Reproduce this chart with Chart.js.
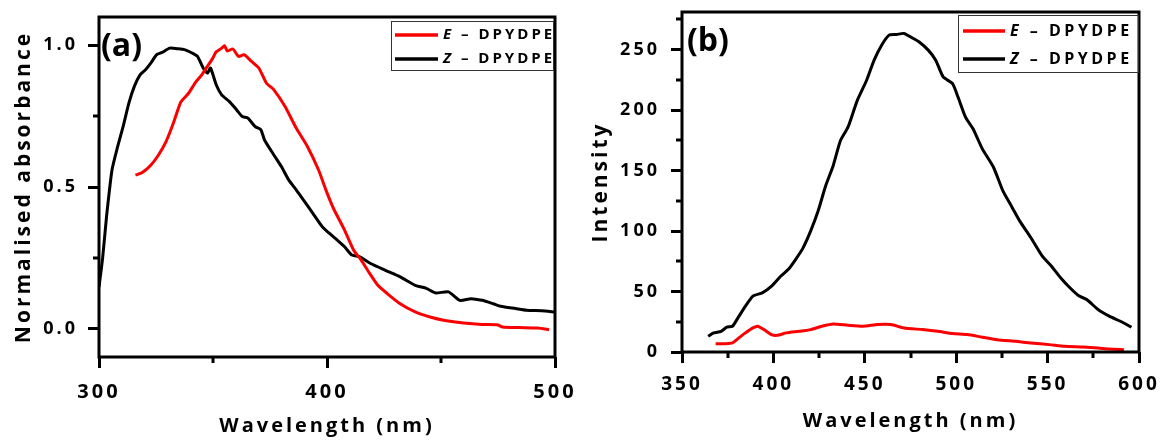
<!DOCTYPE html>
<html><head><meta charset="utf-8">
<script src="https://cdn.jsdelivr.net/npm/chart.js@4"></script>
<style>
html,body{margin:0;padding:0;background:#fff;}
#wrap{position:relative;width:1164px;height:441px;overflow:hidden;background:#fff;}
canvas{position:absolute;top:0;}
#ca{left:0;} #cb{left:580px;}
</style></head><body>
<div id="wrap"><canvas id="ca" width="580" height="441"></canvas><canvas id="cb" width="584" height="441"></canvas></div>
<script>
// ---------- Panel (a): absorbance ----------
const aWlE = [316,318.8,322.8,326.1,329.4,332.6,335.9,339.2,342.4,344.9,347.3,349.8,351.4,353.8,355,356.3,358.7,361.2,363.6,366.9,370.1,373.4,376.7,381.6,386.5,391.4,396.3,399.5,402.8,407.7,411.7,415,418.3,422.3,426.4,432.1,438.7,445.2,451.7,459.9,468,474.6,477,484.3,492.5,497.4];
const aAbsE = [0.542,0.55,0.578,0.613,0.66,0.725,0.80,0.83,0.87,0.894,0.923,0.953,0.977,0.99,0.999,0.98,0.987,0.961,0.967,0.943,0.92,0.867,0.843,0.784,0.708,0.643,0.56,0.49,0.425,0.348,0.277,0.242,0.20,0.153,0.124,0.088,0.059,0.041,0.029,0.02,0.015,0.014,0.006,0.004,0.002,-0.004];
const aWlZ = [300,301.6,303.3,305.7,308.2,310.6,313.1,315.5,318,320.4,322.8,325.3,327.7,331,334.3,337.5,340.8,343.2,345.7,347.6,348.9,351.4,353.8,357.1,360.4,362.8,365.3,368.5,371,372.6,376.7,380,383.2,386.5,389.7,393.8,397.9,401.1,404.4,407.7,410.9,414.2,419.1,425.6,432.1,438.7,443.6,447.6,453.3,458.2,463.1,468,472.9,476.2,482.7,487.6,494.1,500];
const aAbsZ = [0.147,0.25,0.395,0.56,0.643,0.714,0.796,0.855,0.896,0.914,0.938,0.967,0.975,0.99,0.988,0.985,0.973,0.961,0.92,0.902,0.92,0.861,0.825,0.802,0.772,0.749,0.743,0.713,0.702,0.666,0.613,0.572,0.525,0.49,0.454,0.407,0.36,0.336,0.313,0.289,0.26,0.254,0.23,0.206,0.183,0.153,0.142,0.126,0.13,0.10,0.106,0.10,0.088,0.079,0.071,0.065,0.063,0.059];
const aXTicks = [300,400,500];
const aXMinor = [350,450];
const aYTicks = [0,0.5,1.0];
const aYMinor = [0.25,0.75];

// ---------- Panel (b): emission ----------
const bWlE = [368.4,373.5,377.6,380.6,384.7,388.8,391.4,394.9,399,402.1,407.1,414.3,420.4,426.5,432.7,440.8,449,457.1,464.3,471.4,481.6,489.8,498,506.1,514.3,522.4,532.7,540.8,551,559.2,569.4,577.6,583.7,591.8];
const bIntE = [6.9,6.9,7.5,11.1,15.8,19.9,21.3,18.5,14.4,13.8,15.8,17.1,18.5,21.3,23.2,22.1,21.3,22.7,22.7,19.9,18.5,17.1,15.2,14.4,12.2,10.2,8.8,7.5,6.1,4.7,4.1,3.3,2.5,1.9];
const bWlZ = [364.3,367.3,371.4,374.5,377.6,380.6,384.7,388.8,393.9,399,404.1,408.2,412.2,416.3,420.4,424.5,428.6,432.7,436.7,440.8,445.9,451,455.1,459.2,463.3,467.3,471.4,475.5,479.6,484.7,488.8,492.9,498,501,505.1,509.2,514.3,520.4,525.5,530.6,534.7,540.8,547,552,557.1,562.2,567.3,571.4,577.6,583.7,589.8,595.9];
const bIntZ = [13,15.8,17.1,20.5,21.3,28.2,37.9,46.2,48.9,54.5,62.8,68.3,76.6,86.3,100.1,116.7,137.4,154,174.8,185.8,208,224.6,241.2,253.6,261.9,262.4,263.3,260,256.4,249.5,241.2,227.3,221.8,210.7,194.1,184.5,167.9,152.7,133.3,119.5,108.4,94.6,79.4,71.1,61.4,53.1,46.2,43.4,35.1,29.6,25.4,20.5];
const bXTicks = [350,400,450,500,550,600];
const bXMinor = [375,425,475,525,575];
const bYTicks = [0,50,100,150,200,250];
const bYMinor = [25,75,125,175,225,275];

const seriesNames = ['E – DPYDPE','Z – DPYDPE'];
const legendPre = ['E','Z'];
const legendRest = [' – DPYDPE',' – DPYDPE'];
const RED = 'rgb(250,0,0)';
const BLACK = '#000';
const FONT = "'Open Sans', 'DejaVu Sans', sans-serif";

function pts(xs, ys){ return xs.map((x,i)=>({x:x, y:ys[i]})); }

const spacingPlugin = {
  id:'spacing',
  beforeUpdate(c){ c.ctx.letterSpacing='3px'; },
  beforeLayout(c){ c.ctx.letterSpacing='3px'; },
  beforeDraw(c){ c.ctx.letterSpacing='3px'; }
};

const decoPlugin = {
  id:'deco',
  afterDatasetsDraw(chart, args, o){
    const ctx = chart.ctx, a = chart.chartArea, x = chart.scales.x, y = chart.scales.y;
    ctx.save();
    ctx.strokeStyle='#000'; ctx.lineWidth=3;
    ctx.beginPath();
    o.xMinor.forEach(v=>{const p=Math.round(x.getPixelForValue(v)); ctx.moveTo(p,a.bottom); ctx.lineTo(p,a.bottom+6);});
    o.yMinor.forEach(v=>{const p=Math.round(y.getPixelForValue(v)); ctx.moveTo(a.left,p); ctx.lineTo(a.left-6,p);});
    ctx.stroke();
    ctx.strokeRect(a.left,a.top,a.right-a.left,a.bottom-a.top);
    // panel label
    ctx.letterSpacing='0px';
    ctx.fillStyle='#000';
    ctx.font='bold 32px '+FONT;
    ctx.textBaseline='alphabetic'; ctx.textAlign='left';
    ctx.fillText(o.label, o.labelX, o.labelY);
    // legend
    const L = o.legend;
    ctx.lineWidth=1; ctx.strokeStyle='#333';
    ctx.strokeRect(L.x+0.5, L.y+0.5, L.w, L.h);
    const colors=[RED,BLACK];
    for(let i=0;i<2;i++){
      const yy=L.ys[i];
      ctx.strokeStyle=colors[i]; ctx.lineWidth=3.5;
      ctx.beginPath(); ctx.moveTo(L.lx1,yy); ctx.lineTo(L.lx2,yy); ctx.stroke();
      ctx.letterSpacing=L.sp+'px';
      ctx.textBaseline='middle';
      ctx.font='italic bold '+L.size+'px '+FONT;
      ctx.fillText(legendPre[i], L.tx, yy);
      const w=ctx.measureText(legendPre[i]).width;
      ctx.font='bold '+L.size+'px '+FONT;
      ctx.fillText(legendRest[i], L.tx+w, yy);
    }
    ctx.restore();
  }
};

function makeChart(id, cfg){
  return new Chart(document.getElementById(id), {
    type:'line',
    data:{datasets:[
      {label:seriesNames[0], data:pts(cfg.wlE,cfg.vE), borderColor:RED, borderWidth:3, pointRadius:0, tension:0.2, fill:false},
      {label:seriesNames[1], data:pts(cfg.wlZ,cfg.vZ), borderColor:BLACK, borderWidth:3, pointRadius:0, tension:0.2, fill:false}
    ]},
    options:{
      responsive:false, animation:false, devicePixelRatio:1,
      layout:{padding:cfg.pad},
      plugins:{legend:{display:false}, tooltip:{enabled:false},
        deco:{xMinor:cfg.xMinor, yMinor:cfg.yMinor, label:cfg.label, labelX:cfg.labelX, labelY:cfg.labelY, legend:cfg.legend}},
      scales:{
        x:{type:'linear', min:cfg.xMin, max:cfg.xMax,
          afterBuildTicks:s=>{s.ticks=cfg.xTicks.map(v=>({value:v}));},
          afterFit:s=>{s.height=cfg.xH; s.paddingLeft=0; s.paddingRight=0;},
          border:{display:false},
          grid:{display:true, drawOnChartArea:false, drawTicks:true, tickLength:11, tickWidth:3, tickColor:'#000', color:'#000'},
          ticks:{color:'#000', font:{family:FONT, size:cfg.xFont, weight:'bold'}, padding:cfg.xPad, maxRotation:0, callback:v=>String(v)},
          title:{display:true, text:'Wavelength (nm)', color:'#000', font:{family:FONT,size:20,weight:'bold'}, padding:{top:0,bottom:cfg.xTitlePad}}
        },
        y:{type:'linear', min:cfg.yMin, max:cfg.yMax,
          afterBuildTicks:s=>{s.ticks=cfg.yTicks.map(v=>({value:v}));},
          afterFit:s=>{s.width=cfg.yW; s.paddingTop=0; s.paddingBottom=0;},
          border:{display:false},
          grid:{display:true, drawOnChartArea:false, drawTicks:true, tickLength:11, tickWidth:3, tickColor:'#000', color:'#000'},
          ticks:{color:'#000', font:{family:FONT, size:18, weight:'bold'}, padding:cfg.yPad, callback:cfg.yFmt},
          title:{display:true, text:cfg.yTitle, color:'#000', font:{family:FONT,size:21,weight:'bold'}, padding:{top:cfg.yTitlePad,bottom:0}}
        }
      }
    },
    plugins:[spacingPlugin, decoPlugin]
  });
}

makeChart('ca', {
  wlE:aWlE, vE:aAbsE, wlZ:aWlZ, vZ:aAbsZ,
  xMin:300, xMax:500, yMin:-0.1, yMax:1.1,
  xTicks:aXTicks, yTicks:aYTicks, xMinor:aXMinor, yMinor:aYMinor,
  pad:{top:17,right:25,left:0,bottom:0}, xH:84, yW:99,
  xFont:20, xPad:12, yPad:10, xTitlePad:3, yTitlePad:11,
  yFmt:v=>Number(v).toFixed(1), yTitle:'Normalised absorbance',
  label:'(a)', labelX:101, labelY:56,
  legend:{x:391,y:21,w:162,h:49,ys:[35,59],lx1:395,lx2:438,tx:443,size:15,sp:3}
});
makeChart('cb', {
  wlE:bWlE, vE:bIntE, wlZ:bWlZ, vZ:bIntZ,
  xMin:350, xMax:600, yMin:0, yMax:281,
  xTicks:bXTicks, yTicks:bYTicks, xMinor:bXMinor, yMinor:bYMinor,
  pad:{top:12,right:25,left:0,bottom:0}, xH:89, yW:102,
  xFont:19, xPad:10, yPad:11, xTitlePad:8, yTitlePad:8,
  yFmt:v=>String(v), yTitle:'Intensity',
  label:'(b)', labelX:107, labelY:51,
  legend:{x:378,y:15,w:180,h:57,ys:[31,59],lx1:383,lx2:425,tx:430,size:16,sp:3.5}
});
</script>
</body></html>
